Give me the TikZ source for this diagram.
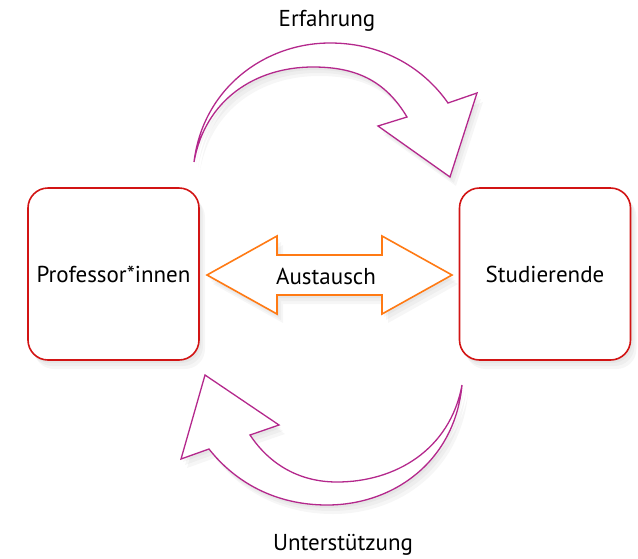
\documentclass[tikz,border=0pt]{standalone}
\usepackage{fontspec}
\setmainfont{PT Sans}
\usepackage{tikz}
\usetikzlibrary{shadows, positioning}
\definecolor{boxred}{RGB}{210,20,20}
\definecolor{arcpurple}{RGB}{180,40,140}
\definecolor{xorange}{RGB}{255,122,20}

\begin{document}
\begin{tikzpicture}[x=0.5pt, y=-0.5pt,
    font=\fontsize{11.5}{14}\selectfont,
    softshadow/.style={drop shadow={opacity=.07, shadow xshift=1pt, shadow yshift=-1.5pt},
                       drop shadow={opacity=.07, shadow xshift=2pt, shadow yshift=-3pt},
                       drop shadow={opacity=.07, shadow xshift=3pt, shadow yshift=-4.5pt}},
    party/.style={draw=boxred, line width=.8pt, fill=white, rounded corners=10pt,
                  minimum width=85.5pt, minimum height=86pt, softshadow},
    curvearrow/.style={draw=arcpurple, line width=.65pt, fill=white, line join=miter, softshadow},
    tradearrow/.style={draw=xorange, line width=.8pt, fill=white, line join=miter, softshadow},
    caption/.style={inner sep=1pt}
    ]
    \useasboundingbox (0,0) rectangle (638,558);

    % Beteiligte
    \node[party] (prof) at (113.5,274) {Professor*innen};
    \node[party] (stud) at (545,274) {Studierende};

    % Austausch
    \path[tradearrow] (207,275) -- (277,236) -- (277,255) -- (382,255) -- (382,236)
        -- (452,275) -- (382,314) -- (382,295) -- (277,295) -- (277,314) -- cycle;
    \node[caption] (tausch) at (326,276) {Austausch};

    % obere Pfeil
    \path[curvearrow] (194,162) .. controls (203,88) and (265,43) .. (330,43)
        .. controls (385,43) and (425,70) .. (448,103)
        -- (477,93) -- (450,177) -- (378,126) -- (407,117)
        .. controls (385,80) and (355,67) .. (313,67)
        .. controls (255,67) and (205,100) .. (194,162) -- cycle;
    \node[caption] (erf) at (327,21) {Erfahrung};

    % untere Pfeil
    \path[curvearrow] (462,385) .. controls (455,460) and (395,505) .. (327,505)
        .. controls (275,505) and (235,482) .. (209,449)
        -- (181,459) -- (205,375) -- (279,425) -- (250,435)
        .. controls (270,465) and (300,482) .. (337,482)
        .. controls (395,482) and (450,450) .. (462,385) -- cycle;
    \node[caption] (unt) at (343,545) {Unterstützung};
\end{tikzpicture}
\end{document}
